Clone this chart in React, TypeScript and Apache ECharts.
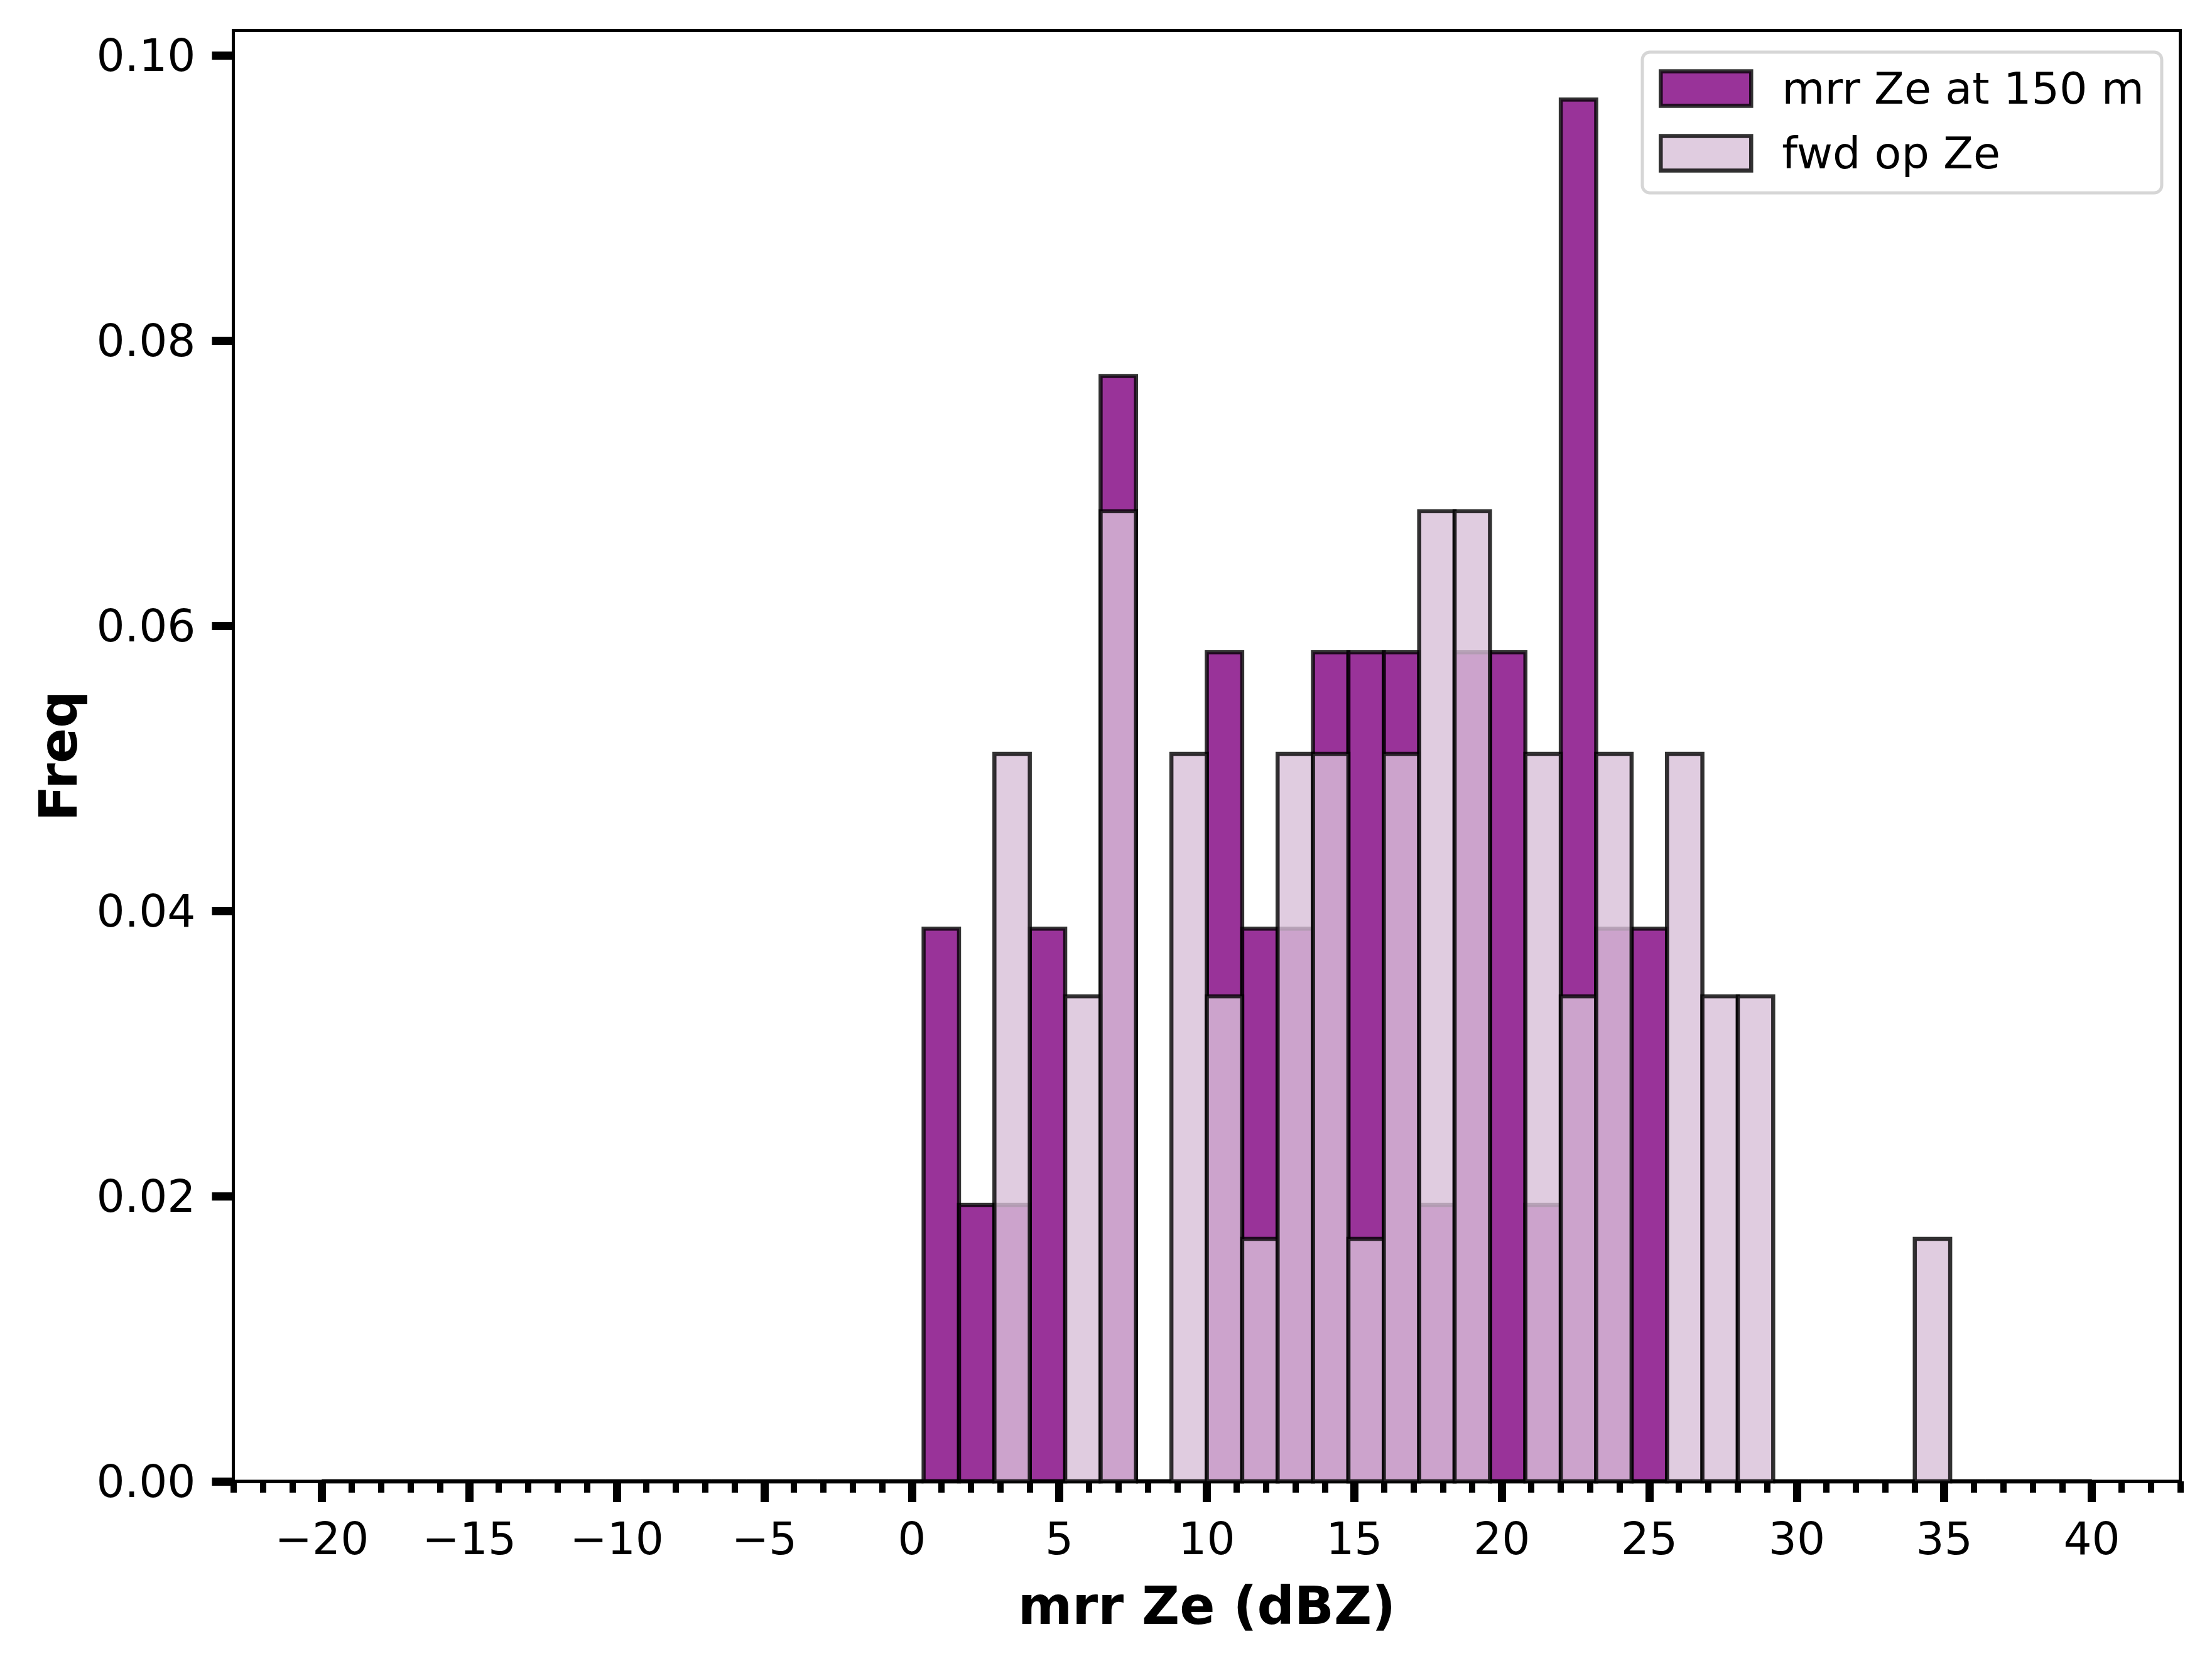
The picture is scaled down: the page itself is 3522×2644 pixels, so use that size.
import React, { useEffect, useRef } from "react";
import * as echarts from "echarts";

// Bin edges (dBZ), 50 bins of width 1.2 from -20 to 40
const binEdges = [
  -20, -18.8, -17.6, -16.4, -15.2, -14.0, -12.8, -11.6, -10.4, -9.2,
  -8.0, -6.8, -5.6, -4.4, -3.2, -2.0, -0.8, 0.4, 1.6, 2.8,
  4.0, 5.2, 6.4, 7.6, 8.8, 10.0, 11.2, 12.4, 13.6, 14.8,
  16.0, 17.2, 18.4, 19.6, 20.8, 22.0, 23.2, 24.4, 25.6, 26.8,
  28.0, 29.2, 30.4, 31.6, 32.8, 34.0, 35.2, 36.4, 37.6, 38.8, 40.0,
];

// Density per bin: mrr Ze at 150 m
const mrrFreq = [
  0, 0, 0, 0, 0, 0, 0, 0, 0, 0,
  0, 0, 0, 0, 0, 0, 0, 0.03876, 0.01938, 0.01938,
  0.03876, 0, 0.07752, 0, 0, 0.05814, 0.03876, 0.03876, 0.05814, 0.05814,
  0.05814, 0.01938, 0.05814, 0.05814, 0.01938, 0.0969, 0.03876, 0.03876, 0, 0,
  0, 0, 0, 0, 0, 0, 0, 0, 0, 0,
];

// Density per bin: fwd op Ze
const fwdFreq = [
  0, 0, 0, 0, 0, 0, 0, 0, 0, 0,
  0, 0, 0, 0, 0, 0, 0, 0, 0, 0.05102,
  0, 0.03401, 0.06803, 0, 0.05102, 0.03401, 0.01701, 0.05102, 0.05102, 0.01701,
  0.05102, 0.06803, 0.06803, 0, 0.05102, 0.03401, 0.05102, 0, 0.05102, 0.03401,
  0.03401, 0, 0, 0, 0, 0.01701, 0, 0, 0, 0,
];

const seriesNames = ["mrr Ze at 150 m", "fwd op Ze"];

const xMajorTicks = [-20, -15, -10, -5, 0, 5, 10, 15, 20, 25, 30, 35, 40];
const xMinorTicks = [
  -23, -22, -21, -20, -19, -18, -17, -16, -15, -14, -13, -12, -11, -10, -9, -8, -7, -6,
  -5, -4, -3, -2, -1, 0, 1, 2, 3, 4, 5, 6, 7, 8, 9, 10, 11, 12, 13, 14, 15, 16, 17, 18,
  19, 20, 21, 22, 23, 24, 25, 26, 27, 28, 29, 30, 31, 32, 33, 34, 35, 36, 37, 38, 39,
  40, 41, 42, 43,
];
const yTicks = [0, 0.02, 0.04, 0.06, 0.08, 0.1];

const FONT = "DejaVu Sans";
const MRR_FILL = "rgba(128,0,128,0.8)";
const FWD_FILL = "rgba(216,191,216,0.8)";
const EDGE = "rgba(0,0,0,0.8)";
const EDGE_W = 6.5;

function histData(values: number[]) {
  return values.map((v, i) => [binEdges[i], binEdges[i + 1], v]);
}

function makeRender(fill: string) {
  return (params: any, api: any) => {
    const x0 = api.value(0);
    const x1 = api.value(1);
    const y = api.value(2);
    const p0 = api.coord([x0, y]);
    const p1 = api.coord([x1, 0]);
    return {
      type: "rect",
      shape: { x: p0[0], y: p0[1], width: p1[0] - p0[0], height: p1[1] - p0[1] },
      style: { fill, stroke: EDGE, lineWidth: EDGE_W },
    };
  };
}

function fmtX(v: number) {
  return v < 0 ? "\u2212" + Math.abs(v) : String(v);
}

export default function App() {
  const ref = useRef<HTMLDivElement>(null);
  useEffect(() => {
    if (!ref.current) return;
    const chart = echarts.init(ref.current, undefined, { renderer: "svg" });
    const option: any = {
      animation: false,
      backgroundColor: "#ffffff",
      textStyle: { fontFamily: FONT },
      grid: {
        left: 371.5,
        top: 48.5,
        right: 50.5,
        bottom: 286,
        show: true,
        borderColor: "#000",
        borderWidth: 5,
        backgroundColor: "transparent",
        containLabel: false,
        outerBoundsMode: "none",
      },
      xAxis: [
        {
          type: "value",
          min: -23,
          max: 43,
          position: "bottom",
          axisLine: { show: true, onZero: false, lineStyle: { color: "#000", width: 5 } },
          axisTick: {
            show: true,
            customValues: xMajorTicks,
            length: 33,
            lineStyle: { color: "#000", width: 13 },
          },
          axisLabel: {
            show: true,
            customValues: xMajorTicks,
            formatter: fmtX,
            fontSize: 71,
            color: "#000",
            margin: 56,
            fontFamily: FONT,
          },
          splitLine: { show: false },
          name: "mrr Ze (dBZ)",
          nameLocation: "middle",
          nameGap: 157,
          nameTextStyle: { fontSize: 83, fontWeight: "bold", color: "#000", fontFamily: FONT },
        },
        {
          type: "value",
          min: -23,
          max: 43,
          position: "bottom",
          axisLine: { show: false, onZero: false },
          axisTick: {
            show: true,
            customValues: xMinorTicks,
            length: 18,
            lineStyle: { color: "#000", width: 10 },
          },
          axisLabel: { show: false },
          splitLine: { show: false },
        },
      ],
      yAxis: {
        type: "value",
        min: 0,
        max: 0.10175,
        axisLine: { show: true, onZero: false, lineStyle: { color: "#000", width: 5 } },
        axisTick: {
          show: true,
          customValues: yTicks,
          length: 34,
          lineStyle: { color: "#000", width: 13 },
        },
        axisLabel: {
          show: true,
          customValues: yTicks,
          formatter: (v: number) => v.toFixed(2),
          fontSize: 71,
          color: "#000",
          margin: 60,
          fontFamily: FONT,
        },
        splitLine: { show: false },
        name: "Freq",
        nameLocation: "middle",
        nameRotate: 90,
        nameGap: 237,
        nameTextStyle: { fontSize: 83, fontWeight: "bold", color: "#000", fontFamily: FONT },
      },
      legend: {
        show: true,
        orient: "vertical",
        left: 2615,
        top: 83,
        padding: [23, 28, 28, 26],
        itemGap: 33,
        itemWidth: 144,
        itemHeight: 55,
        backgroundColor: "rgba(255,255,255,0.8)",
        borderColor: "#d6d6d6",
        borderWidth: 5,
        borderRadius: 12,
        textStyle: {
          fontSize: 70,
          color: "#000",
          fontFamily: FONT,
          padding: [0, 0, 0, 44],
          lineHeight: 55,
        },
        data: [
          {
            name: seriesNames[0],
            icon: "rect",
            itemStyle: { color: MRR_FILL, borderColor: EDGE, borderWidth: EDGE_W },
          },
          {
            name: seriesNames[1],
            icon: "rect",
            itemStyle: { color: FWD_FILL, borderColor: EDGE, borderWidth: EDGE_W },
          },
        ],
      },
      series: [
        {
          name: seriesNames[0],
          type: "custom",
          xAxisIndex: 0,
          yAxisIndex: 0,
          renderItem: makeRender(MRR_FILL),
          encode: { x: [0, 1], y: 2 },
          itemStyle: { color: MRR_FILL, borderColor: EDGE, borderWidth: EDGE_W },
          data: histData(mrrFreq),
          z: 2,
        },
        {
          name: seriesNames[1],
          type: "custom",
          xAxisIndex: 0,
          yAxisIndex: 0,
          renderItem: makeRender(FWD_FILL),
          encode: { x: [0, 1], y: 2 },
          itemStyle: { color: FWD_FILL, borderColor: EDGE, borderWidth: EDGE_W },
          data: histData(fwdFreq),
          z: 3,
        },
      ],
    };
    chart.setOption(option);
    return () => chart.dispose();
  }, []);
  return (
    <div
      ref={ref}
      style={{ position: "absolute", left: 0, top: 0, width: 3522, height: 2644 }}
    />
  );
}
